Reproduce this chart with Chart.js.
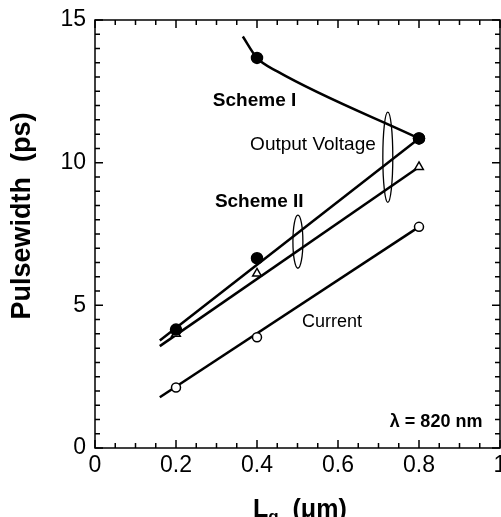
<!DOCTYPE html>
<html>
<head>
<meta charset="utf-8">
<script src="https://cdn.jsdelivr.net/npm/chart.js@4.4.1/dist/chart.umd.min.js"></script>
<style>
  body { margin: 0; background: #fff; }
  #wrap { width: 501px; height: 517px; }
</style>
</head>
<body>
<div id="wrap"><canvas id="pulseChart"></canvas></div>
<script>
// measured gate lengths (um) and pulsewidths (ps)
const gateLengths = [0.2, 0.4, 0.8];
const schemeIPoints = [null, 13.67, 10.85];
const schemeIIPoints = [4.15, 6.65, 10.85];
const trianglePoints = [4.0, 6.12, 9.85];
const currentPoints = [2.12, 3.88, 7.75];

// curve drawn through the scheme I points
const schemeICurveX = [0.365, 0.4, 0.45, 0.8];
const schemeICurveY = [14.42, 13.67, 13.2, 10.85];

// straight fit lines
const fitX = [0.16, 0.8];
const schemeIIFit = [3.77, 10.85];
const triangleFit = [3.57, 9.85];
const currentFit = [1.78, 7.75];

const xTicks = [0, 0.2, 0.4, 0.6, 0.8, 1];
const yTicks = [0, 5, 10, 15];

const FONT = '"Liberation Sans", Arial, Helvetica, sans-serif';

function pairs(xs, ys) {
  return xs.map((x, i) => ({ x: x, y: ys[i] })).filter(p => p.y !== null);
}

// frame, inner ticks, ellipses and labels
const decor = {
  id: 'decor',
  beforeDatasetsDraw(chart) {
    const ctx = chart.ctx;
    const a = chart.chartArea;
    const xs = chart.scales.x, ys = chart.scales.y;
    ctx.save();
    ctx.strokeStyle = '#000';
    ctx.lineWidth = 1.5;
    ctx.strokeRect(a.left, a.top, a.right - a.left, a.bottom - a.top);
    ctx.beginPath();
    for (let i = 0; i <= 20; i++) {
      const px = xs.getPixelForValue(i * 0.05);
      const len = i % 4 === 0 ? 8 : 5;
      ctx.moveTo(px, a.bottom); ctx.lineTo(px, a.bottom - len);
      ctx.moveTo(px, a.top); ctx.lineTo(px, a.top + len);
    }
    for (let i = 0; i <= 30; i++) {
      const py = ys.getPixelForValue(i * 0.5);
      const len = i % 10 === 0 ? 8 : 5;
      ctx.moveTo(a.left, py); ctx.lineTo(a.left + len, py);
      ctx.moveTo(a.right, py); ctx.lineTo(a.right - len, py);
    }
    ctx.stroke();
    ctx.restore();
  },
  afterDatasetsDraw(chart) {
    const ctx = chart.ctx;
    const a = chart.chartArea;
    const xs = chart.scales.x, ys = chart.scales.y;
    ctx.save();
    ctx.fillStyle = '#000';
    ctx.strokeStyle = '#000';

    // ellipses grouping the lines
    ctx.lineWidth = 1.3;
    [[0.723, 10.19, 0.0123, 1.58], [0.501, 7.23, 0.0123, 0.93]].forEach(e => {
      const cx = xs.getPixelForValue(e[0]);
      const cy = ys.getPixelForValue(e[1]);
      const rx = xs.getPixelForValue(e[0] + e[2]) - cx;
      const ry = cy - ys.getPixelForValue(e[1] + e[3]);
      ctx.beginPath();
      ctx.ellipse(cx, cy, rx, ry, 0, 0, Math.PI * 2);
      ctx.stroke();
    });

    ctx.textAlign = 'left';
    ctx.textBaseline = 'alphabetic';
    const notes = [
      ['Scheme I', 0.291, 11.99, 'bold 19px '],
      ['Output Voltage', 0.383, 10.44, '19px '],
      ['Scheme II', 0.296, 8.45, 'bold 19px '],
      ['Current', 0.511, 4.24, '18px '],
      ['\u03bb = 820 nm', 0.728, 0.735, 'bold 18px ']
    ];
    notes.forEach(n => {
      ctx.font = n[3] + FONT;
      ctx.fillText(n[0], xs.getPixelForValue(n[1]), ys.getPixelForValue(n[2]));
    });

    // y axis title
    ctx.save();
    ctx.translate(30, 216);
    ctx.rotate(-Math.PI / 2);
    ctx.textAlign = 'center';
    ctx.font = 'bold 27px ' + FONT;
    ctx.fillText('Pulsewidth  (ps)', 0, 0);
    ctx.restore();

    // x axis title with subscript
    let x = a.left + 158;
    const base = 517;
    ctx.font = 'bold 25px ' + FONT;
    ctx.fillText('L', x, base);
    x += ctx.measureText('L').width;
    ctx.font = 'bold 17px ' + FONT;
    ctx.fillText('g', x, base + 5);
    x += ctx.measureText('g').width;
    ctx.font = 'bold 25px ' + FONT;
    ctx.fillText('  (\u03bcm)', x, base);
    ctx.restore();
  }
};

const markerBase = { type: 'line', showLine: false, order: 1, borderColor: '#000', borderWidth: 1.5, pointHoverRadius: 5 };
const lineBase = { type: 'line', order: 2, borderColor: '#000', borderWidth: 2.5, pointRadius: 0, fill: false };

new Chart(document.getElementById('pulseChart'), {
  type: 'scatter',
  data: {
    datasets: [
      Object.assign({}, markerBase, { label: 'Scheme I', data: pairs(gateLengths, schemeIPoints), pointStyle: 'circle', pointRadius: 5.5, pointBackgroundColor: '#000' }),
      Object.assign({}, markerBase, { label: 'Scheme II', data: pairs(gateLengths, schemeIIPoints), pointStyle: 'circle', pointRadius: 5.5, pointBackgroundColor: '#000' }),
      Object.assign({}, markerBase, { label: 'Triangles', data: pairs(gateLengths, trianglePoints), pointStyle: 'triangle', pointRadius: 5, pointBackgroundColor: '#fff' }),
      Object.assign({}, markerBase, { label: 'Current', data: pairs(gateLengths, currentPoints), pointStyle: 'circle', pointRadius: 4.5, pointBackgroundColor: '#fff' }),
      Object.assign({}, lineBase, { label: 'Scheme I curve', data: pairs(schemeICurveX, schemeICurveY), cubicInterpolationMode: 'monotone' }),
      Object.assign({}, lineBase, { label: 'Scheme II fit', data: pairs(fitX, schemeIIFit) }),
      Object.assign({}, lineBase, { label: 'Triangle fit', data: pairs(fitX, triangleFit) }),
      Object.assign({}, lineBase, { label: 'Current fit', data: pairs(fitX, currentFit) })
    ]
  },
  options: {
    responsive: true,
    maintainAspectRatio: false,
    animation: false,
    layout: { autoPadding: false, padding: { top: 20, right: 1, left: 0, bottom: 0 } },
    plugins: { legend: { display: false }, tooltip: { enabled: false } },
    scales: {
      x: {
        type: 'linear', min: 0, max: 1,
        afterBuildTicks: s => { s.ticks = xTicks.map(v => ({ value: v })); },
        afterFit: s => { s.height = 69; s.paddingLeft = 0; s.paddingRight = 0; },
        grid: { display: false, drawTicks: false },
        border: { display: false },
        ticks: { color: '#000', padding: 4, maxRotation: 0, font: { family: FONT, size: 23 }, callback: v => String(v) }
      },
      y: {
        min: 0, max: 15,
        afterBuildTicks: s => { s.ticks = yTicks.map(v => ({ value: v })); },
        afterFit: s => { s.width = 95; s.paddingTop = 0; s.paddingBottom = 0; },
        grid: { display: false, drawTicks: false },
        border: { display: false },
        ticks: { color: '#000', padding: 9, font: { family: FONT, size: 23 }, callback: v => String(v) }
      }
    }
  },
  plugins: [decor]
});
</script>
</body>
</html>
